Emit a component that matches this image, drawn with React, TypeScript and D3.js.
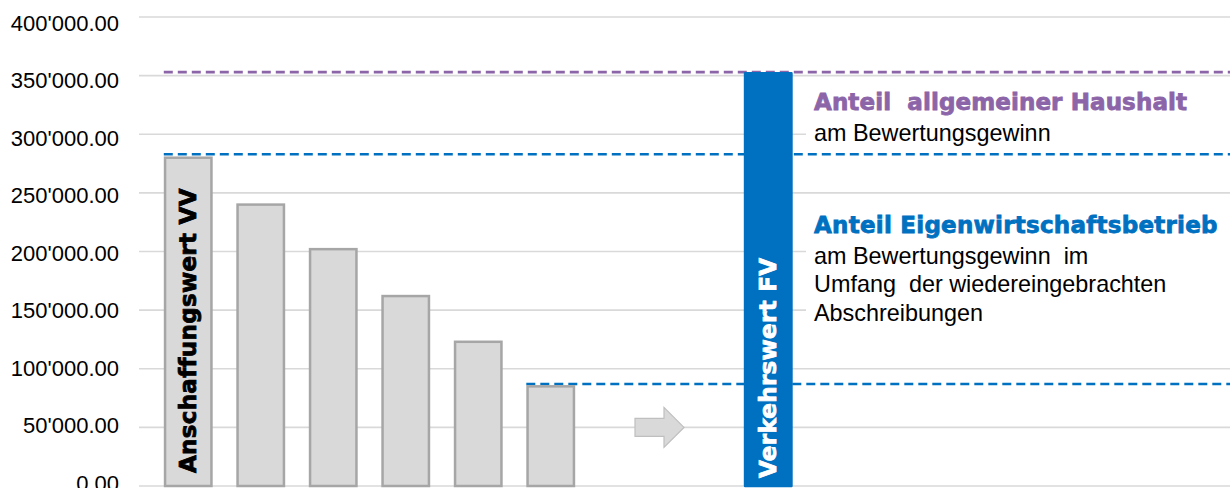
import React from "react";
import * as d3 from "d3";

// ---- data ----
const slots = ["VV", "J1", "J2", "J3", "J4", "J5", "P1", "P2", "FV"];
const bookSlots = ["VV", "J1", "J2", "J3", "J4", "J5"];
const bookValues = [280000, 240000, 202000, 162000, 123000, 85000];
const marketSlot = "FV";
const marketValue = 352000;
const yTicks = [0, 50000, 100000, 150000, 200000, 250000, 300000, 350000, 400000];
const refPurpleValue = 353000;
const refBlueValues = [283000, 87000];
const refBlueStartSlots = ["VV", "J5"];
const arrowSlots = ["P1", "P2"];
const arrowValue = 50000;
const labelVV = "Anschaffungswert VV";
const labelFV = "Verkehrswert FV";
const note1Title = "Anteil  allgemeiner Haushalt";
const note1Lines = ["am Bewertungsgewinn"];
const note2Title = "Anteil Eigenwirtschaftsbetrieb";
const note2Lines = ["am Bewertungsgewinn  im", "Umfang  der wiedereingebrachten", "Abschreibungen"];

const W = 1230;
const H = 488;
const PURPLE = "#8C64A8";
const BLUE = "#0070C0";
const GRID = "#D9D9D9";
const SANS = "'Liberation Sans', Arial, sans-serif";
const BOLD = "'DejaVu Sans', 'Liberation Sans', sans-serif";

const fmt = d3
  .formatLocale({ decimal: ".", thousands: "'", grouping: [3], currency: ["", ""] })
  .format(",.2f");

export default function App() {
  const plotLeft = 139;
  const y = d3.scaleLinear().domain([0, 400000]).range([486, 17]);
  const yLab = d3.scaleLinear().domain([0, 400000]).range([483, 23]);
  const x = d3
    .scaleBand<string>()
    .domain(slots)
    .range([152, 804.5])
    .paddingInner(0.36)
    .paddingOuter(0.18);
  const bw = x.bandwidth();

  const ax = ((x(arrowSlots[0]) as number) + (x(arrowSlots[1]) as number) + bw) / 2;
  const ay = y(arrowValue);
  const aLen = 49;
  const shaftH = 18;
  const headH = 40;
  const headL = 20;
  const arrowPath = [
    [ax - aLen / 2, ay - shaftH / 2],
    [ax + aLen / 2 - headL, ay - shaftH / 2],
    [ax + aLen / 2 - headL, ay - headH / 2],
    [ax + aLen / 2, ay],
    [ax + aLen / 2 - headL, ay + headH / 2],
    [ax + aLen / 2 - headL, ay + shaftH / 2],
    [ax - aLen / 2, ay + shaftH / 2],
  ];
  const line = d3.line();

  const fvX = x(marketSlot) as number;
  const vvX = x(bookSlots[0]) as number;

  const boldStyle = (c: string) => ({
    fontFamily: BOLD,
    fontWeight: "bold" as const,
    fontSize: 23,
    fill: c,
    stroke: c,
    strokeWidth: 0.8,
    whiteSpace: "pre" as const,
  });

  return (
    <div style={{ position: "absolute", left: 0, top: 0 }}>
      <svg width={W} height={H} style={{ display: "block", background: "#fff" }}>
        {/* gridlines */}
        {yTicks.map((t) => (
          <line key={"g" + t} x1={plotLeft} x2={W} y1={y(t)} y2={y(t)} stroke={GRID} strokeWidth={1.6} />
        ))}
        {/* tick labels */}
        {yTicks.map((t) => (
          <text
            key={"l" + t}
            x={119}
            y={yLab(t)}
            dy="0.36em"
            textAnchor="end"
            fontFamily={SANS}
            fontSize={22}
            fill="#000"
          >
            {fmt(t)}
          </text>
        ))}

        {/* note boxes */}
        <rect x={806} y={95} width={W - 806} height={55} fill="#fff" />
        <rect x={806} y={210} width={W - 806} height={125} fill="#fff" />
        <text x={814} y={110} style={boldStyle(PURPLE)} letterSpacing={0.1}>
          {note1Title}
        </text>
        {note1Lines.map((l, i) => (
          <text key={"n1" + i} x={814} y={140.5 + i * 28.5} fontFamily={SANS} fontSize={23.4} fill="#000" style={{ whiteSpace: "pre" }}>
            {l}
          </text>
        ))}
        <text x={814} y={233} style={boldStyle(BLUE)} letterSpacing={0.25}>
          {note2Title}
        </text>
        {note2Lines.map((l, i) => (
          <text key={"n2" + i} x={814} y={264 + i * 28.4} fontFamily={SANS} fontSize={23.4} fill="#000" style={{ whiteSpace: "pre" }}>
            {l}
          </text>
        ))}

        {/* dashed reference lines */}
        <line x1={vvX - 1.25} x2={W} y1={y(refPurpleValue)} y2={y(refPurpleValue)} stroke={PURPLE} strokeWidth={2.6} strokeDasharray="9 5" />
        {refBlueValues.map((v, i) => (
          <line
            key={"rb" + i}
            x1={(x(refBlueStartSlots[i]) as number) - 1.25}
            x2={W}
            y1={y(v)}
            y2={y(v)}
            stroke={BLUE}
            strokeWidth={2.6}
            strokeDasharray="9 5"
          />
        ))}

        {/* book value bars */}
        {bookSlots.map((s, i) => (
          <rect
            key={"b" + s}
            x={x(s)}
            y={y(bookValues[i])}
            width={bw}
            height={y(0) - y(bookValues[i])}
            fill="#D9D9D9"
            stroke="#A6A6A6"
            strokeWidth={2.5}
          />
        ))}
        {/* market value bar */}
        <rect
          x={fvX}
          y={y(marketValue)}
          width={bw}
          height={y(0) - y(marketValue)}
          fill={BLUE}
          stroke={BLUE}
          strokeWidth={2.5}
          strokeLinejoin="round"
        />

        {/* arrow */}
        <path d={(line(arrowPath as [number, number][]) as string) + "Z"} fill="#D9D9D9" stroke="#BFBFBF" strokeWidth={1.2} />

        {/* vertical labels */}
        <text
          transform={`translate(${vvX + bw / 2 + 8},473) rotate(-90)`}
          style={boldStyle("#000")}
          letterSpacing={0.3}
        >
          {labelVV}
        </text>
        <text
          transform={`translate(${fvX + bw / 2 + 8},478) rotate(-90)`}
          style={boldStyle("#fff")}
          letterSpacing={0.3}
        >
          {labelFV}
        </text>
      </svg>
    </div>
  );
}
